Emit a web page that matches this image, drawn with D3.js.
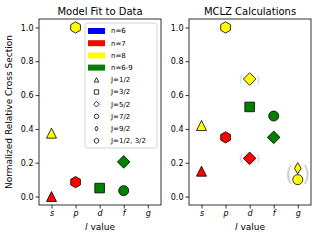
<!DOCTYPE html>
<html>
<head>
<meta charset="utf-8">
<script src="https://cdn.jsdelivr.net/npm/d3@7"></script>
<style>
  body { margin: 0; background: #fff; }
  text { font-family: "DejaVu Sans", sans-serif; }
</style>
</head>
<body>
<div id="container"></div>
<script>
var categories = ['s', 'p', 'd', 'f', 'g'];
var yTicks = [0.0, 0.2, 0.4, 0.6, 0.8, 1.0];

// panel 1: model fit to data
var fitL   = ['s', 's', 'p', 'p', 'd', 'f', 'f'];
var fitVal = [0.375, 0.0, 1.0, 0.085, 0.05, 0.205, 0.035];
var fitN   = ['n=8', 'n=7', 'n=8', 'n=7', 'n=6-9', 'n=6-9', 'n=6-9'];
var fitJ   = ['J=1/2', 'J=1/2', 'J=1/2, 3/2', 'J=1/2, 3/2', 'J=3/2', 'J=5/2', 'J=7/2'];

// panel 2: MCLZ calculations
var mclzL   = ['s', 's', 'p', 'p', 'd', 'd', 'd', 'f', 'f', 'g', 'g'];
var mclzVal = [0.42, 0.15, 1.0, 0.35, 0.695, 0.53, 0.226, 0.476, 0.35, 0.167, 0.10];
var mclzN   = ['n=8', 'n=7', 'n=8', 'n=7', 'n=8', 'n=6-9', 'n=7', 'n=6-9', 'n=6-9', 'n=8', 'n=8'];
var mclzJ   = ['J=1/2', 'J=1/2', 'J=1/2, 3/2', 'J=1/2, 3/2', 'J=5/2', 'J=3/2', 'J=5/2', 'J=7/2', 'J=5/2', 'J=9/2', 'J=7/2'];

// bracketed (uncertain) MCLZ values
var parenL  = ['d', 'd', 'g'];
var parenLo = [0.695, 0.226, 0.10];
var parenHi = [0.695, 0.226, 0.167];

var nLabels = ['n=6', 'n=7', 'n=8', 'n=6-9'];
var nColors = ['#0000ff', '#ff0000', '#ffff00', '#008000'];
var jLabels = ['J=1/2', 'J=3/2', 'J=5/2', 'J=7/2', 'J=9/2', 'J=1/2, 3/2'];
var jShapes = ['tri', 'square', 'diamond', 'circle', 'thin', 'hex'];

var width = 320, height = 240;
var pw = 122, ph = 186, plotTop = 19;

var svg = d3.select('#container').append('svg')
  .attr('width', width).attr('height', height);

var color = d3.scaleOrdinal().domain(nLabels).range(nColors);
var shape = d3.scaleOrdinal().domain(jLabels).range(jShapes);

var x = d3.scaleLinear().domain([-0.52, 4.55]).range([0, pw]);
var y = d3.scaleLinear().domain([-0.05, 1.05]).range([ph, 0]);

function markerPath(type, k) {
  k = k || 1;
  var p, i, a, r;
  if (type === 'tri') {
    var m = 5 * k;
    return 'M0,' + (-m) + 'L' + (-m) + ',' + m + 'L' + m + ',' + m + 'Z';
  }
  if (type === 'square') {
    var s = 4.8 * k;
    return 'M' + (-s) + ',' + (-s) + 'H' + s + 'V' + s + 'H' + (-s) + 'Z';
  }
  if (type === 'diamond') {
    var d = 6.3 * k;
    return 'M0,' + (-d) + 'L' + d + ',0L0,' + d + 'L' + (-d) + ',0Z';
  }
  if (type === 'thin') {
    var w = 3.3 * k, h = 5.6 * k;
    return 'M0,' + (-h) + 'L' + w + ',0L0,' + h + 'L' + (-w) + ',0Z';
  }
  if (type === 'circle') {
    r = 5 * k;
    return 'M' + r + ',0A' + r + ',' + r + ' 0 1,1 ' + (-r) + ',0A' + r + ',' + r + ' 0 1,1 ' + r + ',0Z';
  }
  // hexagon with a vertex on top
  r = 5.6 * k;
  p = [];
  for (i = 0; i < 6; i++) {
    a = -Math.PI / 2 + i * Math.PI / 3;
    p.push([r * Math.cos(a), r * Math.sin(a)]);
  }
  return 'M' + p.map(function(q) { return q[0].toFixed(2) + ',' + q[1].toFixed(2); }).join('L') + 'Z';
}

function drawPanel(left, title, ls, vals, ns, js, showYLabel) {
  var g = svg.append('g').attr('transform', 'translate(' + left + ',' + plotTop + ')');

  var yAxis = g.append('g')
    .call(d3.axisLeft(y).tickValues(yTicks).tickFormat(d3.format('.1f')).tickSize(3.5).tickPadding(2));
  var xAxis = g.append('g')
    .attr('transform', 'translate(0,' + ph + ')')
    .call(d3.axisBottom(x).tickValues(d3.range(categories.length))
      .tickFormat(function(i) { return categories[i]; }).tickSize(3.5).tickPadding(1.5));

  [yAxis, xAxis].forEach(function(ax) {
    ax.select('.domain').remove();
    ax.selectAll('line').attr('stroke', '#000').attr('stroke-width', 0.8);
    ax.selectAll('text').attr('fill', '#000').style('font-size', '8px');
  });
  xAxis.selectAll('text').style('font-style', 'italic');

  g.append('rect')
    .attr('width', pw).attr('height', ph)
    .attr('fill', 'none').attr('stroke', '#000').attr('stroke-width', 0.8);

  g.append('text')
    .attr('x', pw / 2).attr('y', -4)
    .attr('text-anchor', 'middle')
    .style('font-size', '10px')
    .text(title);

  var xl = g.append('text')
    .attr('x', pw / 2).attr('y', ph + 24.5)
    .attr('text-anchor', 'middle')
    .style('font-size', '9px');
  xl.append('tspan').style('font-style', 'italic').text('l');
  xl.append('tspan').text(' value');

  if (showYLabel) {
    g.append('text')
      .attr('transform', 'translate(' + (-27.5) + ',' + (ph / 2) + ') rotate(-90)')
      .attr('text-anchor', 'middle')
      .style('font-size', '9px')
      .text('Normalized Relative Cross Section');
  }

  g.selectAll('path.mark')
    .data(vals)
    .enter().append('path')
    .attr('class', 'mark')
    .attr('transform', function(d, i) {
      return 'translate(' + x(categories.indexOf(ls[i])) + ',' + y(d) + ')';
    })
    .attr('d', function(d, i) { return markerPath(shape(js[i])); })
    .attr('fill', function(d, i) { return color(ns[i]); })
    .attr('stroke', '#000')
    .attr('stroke-width', 0.8);

  return g;
}

var g1 = drawPanel(39, 'Model Fit to Data', fitL, fitVal, fitN, fitJ, true);
var g2 = drawPanel(189, 'MCLZ Calculations', mclzL, mclzVal, mclzN, mclzJ, false);

// light grey brackets round the uncertain MCLZ values
parenL.forEach(function(l, i) {
  var cx = x(categories.indexOf(l));
  var y0 = y(parenHi[i]) - 6, y1 = y(parenLo[i]) + 6;
  var fs = (y1 - y0) * 0.88;
  var cy = (y0 + y1) / 2;
  [[-8.5, '('], [8.5, ')']].forEach(function(p) {
    g2.append('text')
      .attr('x', cx + p[0]).attr('y', cy)
      .attr('dy', '0.36em')
      .attr('text-anchor', 'middle')
      .attr('fill', '#d0d0d0')
      .style('font-size', fs + 'px')
      .text(p[1]);
  });
});

// legend in the first panel
var legX = 46, legY = 4, rowH = 12.2;
var leg = g1.append('g').attr('transform', 'translate(' + legX + ',' + legY + ')');
leg.append('rect')
  .attr('width', 72).attr('height', 125)
  .attr('rx', 2)
  .attr('fill', '#fff').attr('fill-opacity', 0.8)
  .attr('stroke', '#cccccc').attr('stroke-width', 0.8);

var legRows = nLabels.map(function(n) { return { label: n, kind: 'patch' }; })
  .concat(jLabels.map(function(j) { return { label: j, kind: 'marker' }; }));

var row = leg.selectAll('g.row')
  .data(legRows)
  .enter().append('g')
  .attr('class', 'row')
  .attr('transform', function(d, i) { return 'translate(0,' + (8 + i * rowH) + ')'; });

row.filter(function(d) { return d.kind === 'patch'; })
  .append('rect')
  .attr('x', 3).attr('y', -3).attr('width', 17).attr('height', 6)
  .attr('fill', function(d) { return color(d.label); });

row.filter(function(d) { return d.kind === 'marker'; })
  .append('path')
  .attr('transform', 'translate(11.5,0)')
  .attr('d', function(d) { return markerPath(shape(d.label), 0.45); })
  .attr('fill', '#fff')
  .attr('stroke', '#000')
  .attr('stroke-width', 0.8);

row.append('text')
  .attr('x', 26).attr('dy', '0.35em')
  .style('font-size', '7px')
  .text(function(d) { return d.label; });
</script>
</body>
</html>
